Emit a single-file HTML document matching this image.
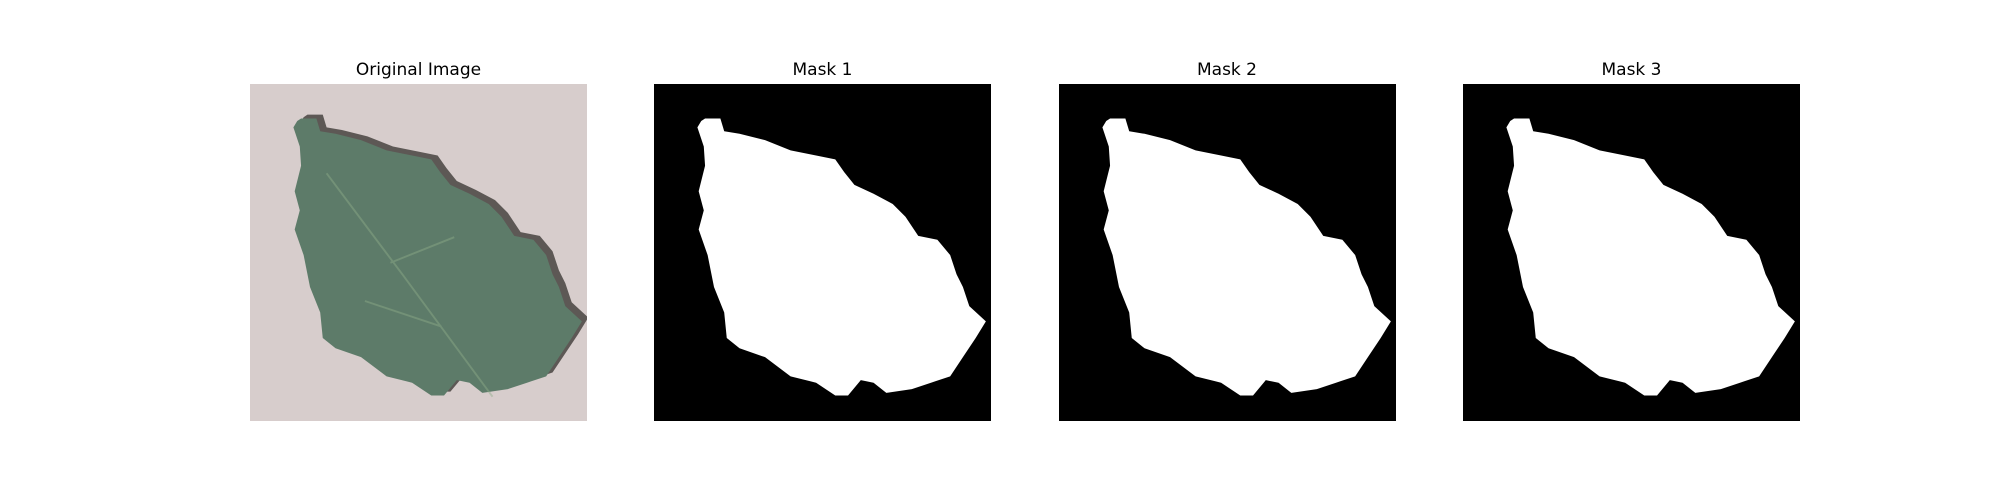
<!DOCTYPE html>
<html><head><meta charset="utf-8"><style>
html,body{margin:0;padding:0;background:#fff;}
svg{display:block;}
text{font-family:"DejaVu Sans","Liberation Sans",sans-serif;font-size:17px;fill:#000;}
</style></head><body>
<svg width="2000" height="500" viewBox="0 0 2000 500">
<defs>
<path id="leaf" d="M37,29 L40,27 L52,27 L55,37 L67,39 L87,44 L107,52 L127,56 L142,59 L149,69 L157,79 L172,86 L187,94 L197,104 L207,119 L222,122 L232,134 L237,149 L242,159 L247,174 L260,186 L252,199 L242,214 L232,229 L217,234 L202,239 L182,242 L172,234 L162,232 L152,244 L142,244 L127,234 L107,229 L87,214 L67,207 L57,199 L55,179 L47,159 L42,134 L35,114 L39,99 L35,84 L40,64 L39,49 L34,34 Z"/>
<clipPath id="panelclip"><rect x="0" y="0" width="264" height="264"/></clipPath>
</defs>
<g>
<text x="418.5" y="75" text-anchor="middle">Original Image</text>
<g transform="translate(250,84) scale(1.2765)">
<g clip-path="url(#panelclip)">
<rect x="0" y="0" width="264" height="264" fill="#d7cdcc"/>
<use href="#leaf" transform="translate(5,-3)" fill="#2a2622" opacity="0.7"/>
<use href="#leaf" fill="#5d7b69"/>
<path d="M60,70 L120,150 L190,245 M110,140 L160,120 M90,170 L150,190" stroke="#8fae8a" stroke-width="1.5" fill="none" opacity="0.45"/>
</g>
</g>
</g>
<g>
<text x="822.5" y="75" text-anchor="middle">Mask 1</text>
<g transform="translate(654,84) scale(1.2765)">
<rect width="264" height="264" fill="#000"/>
<use href="#leaf" fill="#fff"/>
</g>
</g>
<g>
<text x="1227" y="75" text-anchor="middle">Mask 2</text>
<g transform="translate(1059,84) scale(1.2765)">
<rect width="264" height="264" fill="#000"/>
<use href="#leaf" fill="#fff"/>
</g>
</g>
<g>
<text x="1631.5" y="75" text-anchor="middle">Mask 3</text>
<g transform="translate(1463,84) scale(1.2765)">
<rect width="264" height="264" fill="#000"/>
<use href="#leaf" fill="#fff"/>
</g>
</g>
</svg>
</body></html>
